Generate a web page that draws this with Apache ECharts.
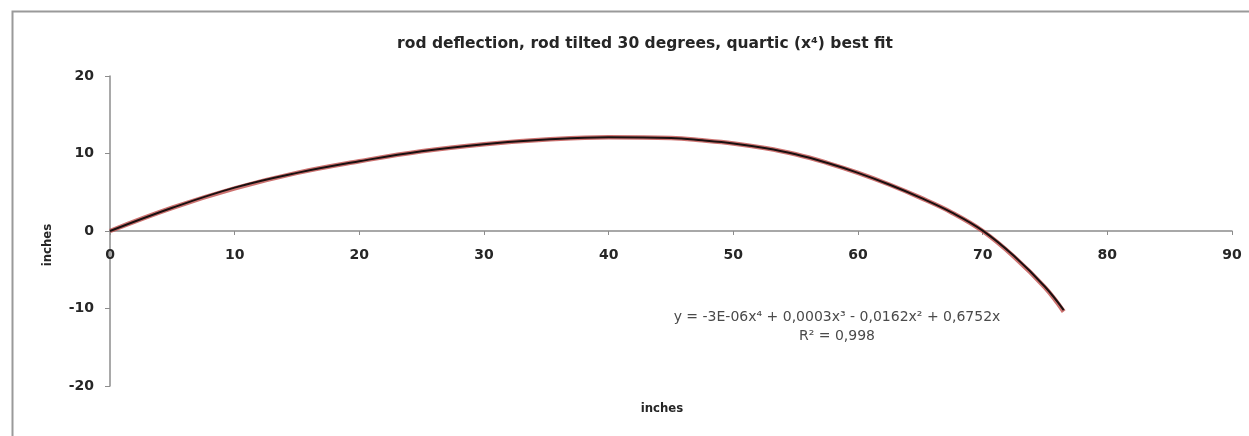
<!DOCTYPE html>
<html><head><meta charset="utf-8">
<script src="https://cdn.jsdelivr.net/npm/echarts@6/dist/echarts.min.js"></script>
<style>html,body{margin:0;padding:0;background:#fff}#c{width:1249px;height:436px}</style>
</head><body><div id="c"></div>
<script>
// data (x in inches, y in inches)
const xValues   = [0, 5, 10, 15, 20, 25, 30, 35, 40, 45, 47.5, 50, 52.5, 55, 57.5, 60, 62.5, 65, 67.5, 70, 72.5, 75, 76.5];
const rodValues = [0, 3.0, 5.6, 7.5, 9.0, 10.3, 11.2, 11.8, 12.1, 12.0, 11.7, 11.3, 10.7, 9.9, 8.8, 7.5, 6.0, 4.3, 2.4, 0.05, -3.2, -7.2, -10.2];
const fitValues = [0, 3.0, 5.5, 7.5, 9.0, 10.3, 11.2, 11.8, 12.1, 12.0, 11.7, 11.3, 10.7, 9.9, 8.8, 7.5, 6.0, 4.3, 2.4, 0.0, -3.3, -7.3, -10.4];
const xTicks = [0, 10, 20, 30, 40, 50, 60, 70, 80, 90];
const yTicks = [-20, -10, 0, 10, 20];
const titleText = 'rod deflection, rod tilted 30 degrees, quartic (x\u2074) best fit';
const eqText = 'y = -3E-06x\u2074 + 0,0003x\u00b3 - 0,0162x\u00b2 + 0,6752x';
const r2Text = 'R\u00b2 = 0,998';
const axisTitle = 'inches';

const FF = '"DejaVu Sans", sans-serif';
const FC = '"DejaVu Sans Condensed", "DejaVu Sans", sans-serif';
const chart = echarts.init(document.getElementById('c'), null, {renderer: 'canvas'});
chart.setOption({
  animation: false,
  backgroundColor: '#fff',
  title: {
    text: titleText, left: 640, top: 31, textAlign: 'center',
    textStyle: {fontFamily: FF, fontSize: 15.5, fontWeight: 'bold', color: '#262626'}
  },
  grid: {left: 110, right: 17, top: 76, bottom: 50, containLabel: false},
  xAxis: {
    type: 'value', min: xTicks[0], max: xTicks[xTicks.length - 1], interval: 10,
    offset: -155,
    axisLine: {onZero: false, lineStyle: {color: '#8c8c8c', width: 1.5}},
    axisTick: {show: true, length: 4, lineStyle: {color: '#8c8c8c'}},
    axisLabel: {margin: 17, fontFamily: FF, fontSize: 14, fontWeight: 'bold', color: '#262626'},
    splitLine: {show: false}
  },
  yAxis: {
    type: 'value', min: yTicks[0], max: yTicks[yTicks.length - 1], interval: 10,
    axisLine: {show: true, onZero: false, lineStyle: {color: '#8c8c8c', width: 1.5}},
    axisTick: {show: true, length: 5, lineStyle: {color: '#8c8c8c'}},
    axisLabel: {margin: 16, fontFamily: FF, fontSize: 14, fontWeight: 'bold', color: '#262626'},
    splitLine: {show: false}
  },
  series: [
    {
      name: 'fit', type: 'line', smooth: 0.4, showSymbol: false, silent: true,
      data: xValues.map((x, i) => [x, fitValues[i]]),
      lineStyle: {color: '#c0504d', width: 4.5, opacity: 0.8}
    },
    {
      name: 'rod', type: 'line', smooth: 0.4, showSymbol: false, silent: true,
      data: xValues.map((x, i) => [x, rodValues[i]]),
      lineStyle: {color: '#1a1010', width: 2}
    }
  ],
  graphic: [
    {type: 'rect', left: 10, top: 9, shape: {width: 1260, height: 460},
     style: {fill: 'none', stroke: '#9a9a9a', lineWidth: 2}, silent: true},
    {type: 'text', x: 837, y: 317, style: {text: eqText, fontFamily: FF, fontSize: 14, fill: '#4a4a4a', textAlign: 'center', textVerticalAlign: 'middle'}},
    {type: 'text', x: 837, y: 336, style: {text: r2Text, fontFamily: FF, fontSize: 14, fill: '#4a4a4a', textAlign: 'center', textVerticalAlign: 'middle'}},
    {type: 'text', x: 662, y: 409, style: {text: axisTitle, fontFamily: FC, fontSize: 13, fontWeight: 'bold', fill: '#262626', textAlign: 'center', textVerticalAlign: 'middle'}},
    {type: 'text', x: 48, y: 245, rotation: Math.PI / 2, style: {text: axisTitle, fontFamily: FC, fontSize: 13, fontWeight: 'bold', fill: '#262626', textAlign: 'center', textVerticalAlign: 'middle'}}
  ]
});
</script></body></html>
